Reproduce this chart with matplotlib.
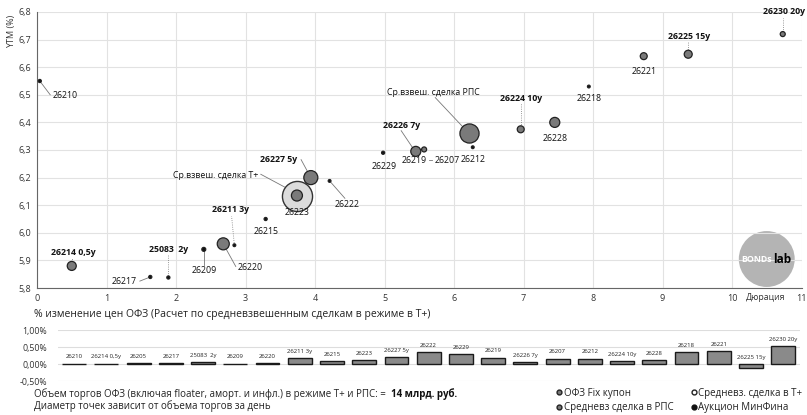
import matplotlib
matplotlib.use("Agg")
import matplotlib.pyplot as plt
from matplotlib.lines import Line2D

plt.rcParams['font.family'] = ['Open Sans', 'DejaVu Sans']
plt.rcParams['axes.linewidth'] = 0.8

# --- data: ОФЗ fix coupon (duration, YTM, marker area ~ daily volume) ---
bonds = ["26210", "26214", "26217", "25083", "26209", "26220", "26211", "26215",
         "26223", "26227", "26222", "26229", "26219", "26207", "26212", "26224",
         "26228", "26218", "26221", "26225", "26230"]
duration = [0.04, 0.50, 1.63, 1.89, 2.40, 2.68, 2.84, 3.29, 3.74, 3.94, 4.21,
            4.98, 5.45, 5.57, 6.27, 6.96, 7.45, 7.94, 8.73, 9.37, 10.73]
ytm = [6.55, 5.88, 5.84, 5.838, 5.94, 5.96, 5.955, 6.05, 6.135, 6.20, 6.188,
       6.29, 6.295, 6.302, 6.31, 6.375, 6.40, 6.53, 6.64, 6.647, 6.72]
volume = [5, 42, 5, 5, 8, 75, 4, 5, 63, 102, 4, 5, 52, 13, 4, 25, 52, 4, 25, 33, 13]

# weighted average trades
tplus_dur, tplus_ytm, tplus_vol = 3.74, 6.135, 470
rps_dur, rps_ytm, rps_vol = 6.21, 6.36, 190

# --- data: price change, % ---
bar_names = ["26210", "26214 0,5y", "26205", "26217", "25083  2y", "26209", "26220",
             "26211 3y", "26215", "26223", "26227 5y", "26222", "26229", "26219",
             "26226 7y", "26207", "26212", "26224 10y", "26228", "26218", "26221",
             "26225 15y", "26230 20y"]
price_chg = [0.01, 0.01, 0.02, 0.02, 0.05, 0.01, 0.03, 0.17, 0.09, 0.11, 0.20,
             0.34, 0.28, 0.19, 0.06, 0.16, 0.16, 0.09, 0.11, 0.34, 0.39, -0.11, 0.53]

fig = plt.figure(figsize=(8.07, 4.15), dpi=100)

# ---------------- main scatter ----------------
ax = fig.add_axes([37 / 807, 1 - 288 / 415, 764.5 / 807, 276 / 415])
ax.set_xlim(0, 11)
ax.set_ylim(5.8, 6.8)
ax.set_xticks(range(12))
ax.set_yticks([5.8 + 0.1 * i for i in range(11)])
ax.set_yticklabels([f"{5.8 + 0.1 * i:.1f}".replace(".", ",") for i in range(11)])
ax.grid(color="#e2e2e2", linewidth=0.8, zorder=0)
for s in ["top", "right"]:
    ax.spines[s].set_visible(False)
ax.spines["left"].set_color("#666666")
ax.spines["bottom"].set_color("#666666")
ax.tick_params(length=0, labelsize=6.5, colors="#333333", pad=4)
ax.set_ylabel("YTM (%)", fontsize=6.5, color="#333333", labelpad=2)
ax.yaxis.set_label_coords(-0.027, 0.93)

# logo
ax.scatter([10.5], [5.905], s=1620, color="#b4b4b4", edgecolor="none", zorder=1)
ax.text(10.575, 5.905, "BONDs", fontsize=6.3, color="white", fontweight="bold",
        ha="right", va="center", zorder=2)
ax.text(10.585, 5.905, "lab", fontsize=8.5, color="black", fontweight="bold",
        ha="left", va="center", zorder=2)

# T+ weighted trade (big light circle)
ax.scatter([tplus_dur], [tplus_ytm], s=tplus_vol, color="#dcdcdc", edgecolor="#333333",
           linewidth=1.0, zorder=3)
cols = ["#111111" if v < 10 else "#7a7a7a" for v in volume]
ax.scatter(duration, ytm, s=volume, c=cols, edgecolor="#222222", linewidth=0.9, zorder=4)
ax.scatter([rps_dur], [rps_ytm], s=rps_vol, color="#7a7a7a", edgecolor="#222222",
           linewidth=0.9, zorder=4)

pt = dict(zip(bonds, zip(duration, ytm)))

# labels: text, x, y, ha, bold, leader end, leader style, leader start (name or xy)
labels = [
    ("26210", 0.22, 6.496, "left", False, (0.19, 6.50), "-", "26210"),
    ("26214 0,5y", 0.53, 5.927, "center", True, (0.5, 5.91), ":", "26214"),
    ("26217", 1.44, 5.822, "right", False, (1.48, 5.825), "-", "26217"),
    ("25083  2y", 1.90, 5.938, "center", True, (1.89, 5.92), ":", "25083"),
    ("26209", 2.40, 5.865, "center", False, (2.40, 5.885), "-", "26209"),
    ("26220", 2.89, 5.873, "left", False, (2.86, 5.878), "-", "26220"),
    ("26211 3y", 2.78, 6.083, "center", True, (2.80, 6.06), ":", "26211"),
    ("26215", 3.29, 6.003, "center", False, None, None, None),
    ("26223", 3.74, 6.072, "center", False, None, None, None),
    ("Ср.взвеш. сделка Т+", 3.18, 6.209, "right", False, (3.22, 6.212), "-", (3.68, 6.15)),
    ("26227 5y", 3.74, 6.267, "right", True, (3.80, 6.265), "-", "26227"),
    ("26222", 4.46, 6.104, "center", False, (4.43, 6.125), "-", "26222"),
    ("26229", 4.99, 6.242, "center", False, None, None, None),
    ("26219", 5.42, 6.262, "center", False, None, None, None),
    ("26207", 5.90, 6.262, "center", False, (5.64, 6.262), "-", (5.69, 6.262)),
    ("26212", 6.27, 6.265, "center", False, None, None, None),
    ("26226 7y", 5.24, 6.387, "center", True, (5.24, 6.37), "-", (5.40, 6.31)),
    ("Ср.взвеш. сделка РПС", 5.70, 6.51, "center", False, (5.73, 6.49), "-", (6.16, 6.375)),
    ("26224 10y", 6.96, 6.488, "center", True, (6.96, 6.47), ":", "26224"),
    ("26228", 7.45, 6.343, "center", False, None, None, None),
    ("26218", 7.94, 6.488, "center", False, None, None, None),
    ("26221", 8.73, 6.586, "center", False, None, None, None),
    ("26225 15y", 9.38, 6.713, "center", True, (9.37, 6.695), ":", "26225"),
    ("26230 20y", 10.75, 6.80, "center", True, (10.73, 6.78), ":", "26230"),
]
for txt, tx, ty, ha, bold, lend, ls, lstart in labels:
    ax.text(tx, ty, txt, fontsize=6.3, ha=ha, va="center", color="#111111",
            fontweight="bold" if bold else "normal", zorder=6, clip_on=False)
    if lend is not None:
        p0 = pt[lstart] if isinstance(lstart, str) else lstart
        ax.plot([p0[0], lend[0]], [p0[1], lend[1]], color="#777777", linewidth=0.6,
                linestyle=ls, zorder=2)

fig.text(766 / 807, 1 - 298 / 415, "Дюрация", fontsize=6.3, color="#333333",
         ha="center", va="center")

# ---------------- bar chart ----------------
fig.text(34 / 807, 1 - 314 / 415,
         "% изменение цен ОФЗ (Расчет по средневзвешенным сделкам в режиме в Т+)",
         fontsize=7.5, color="#222222", ha="left", va="center")

bx = fig.add_axes([58 / 807, 1 - 381 / 415, 742 / 807, 51 / 415])
xs = list(range(len(bar_names)))
bx.bar(xs, price_chg, width=0.74, color="#8a8a8a", edgecolor="#1a1a1a", linewidth=1.0,
       zorder=3)
for x, v, n in zip(xs, price_chg, bar_names):
    bx.annotate(n, (x, max(v, 0)), xytext=(0, 3), textcoords="offset points",
                ha="center", va="bottom", fontsize=4.3, color="#222222")
bx.set_xlim(-0.5, len(bar_names) - 0.48)
bx.set_ylim(-0.5, 1.0)
bx.set_yticks([-0.5, 0, 0.5, 1.0])
bx.set_yticklabels(["-0,50%", "0,00%", "0,50%", "1,00%"])
bx.set_xticks([])
bx.grid(axis="y", color="#dddddd", linewidth=0.8, zorder=0)
for s in bx.spines.values():
    s.set_visible(False)
bx.tick_params(length=0, labelsize=6.3, colors="#333333", pad=8)

# ---------------- footer ----------------
t1 = fig.text(34 / 807, 1 - 394 / 415,
              "Объем торгов ОФЗ (включая floater, аморт. и инфл.) в режиме Т+ и РПС: = ",
              fontsize=7.0, color="#222222", ha="left", va="center")
fig.canvas.draw()
bb = t1.get_window_extent()
fig.text(bb.x1 / fig.bbox.width + 0.003, 1 - 394 / 415, "14 млрд. руб.", fontsize=7.0,
         color="#111111", fontweight="bold", ha="left", va="center")
fig.text(34 / 807, 1 - 406 / 415, "Диаметр точек зависит от объема торгов за день",
         fontsize=7.0, color="#222222", ha="left", va="center")

handles = [
    Line2D([], [], marker="o", ls="", markersize=3.5, markerfacecolor="#7a7a7a",
           markeredgecolor="#222222", label="ОФЗ Fix купон"),
    Line2D([], [], marker="o", ls="", markersize=3.5, markerfacecolor="#7a7a7a",
           markeredgecolor="#222222", label="Средневз сделка в РПС"),
    Line2D([], [], marker="o", ls="", markersize=3.5, markerfacecolor="white",
           markeredgecolor="#222222", label="Средневз. сделка в Т+"),
    Line2D([], [], marker="o", ls="", markersize=3.5, markerfacecolor="#111111",
           markeredgecolor="#111111", label="Аукцион МинФина"),
]
fig.legend(handles=handles, ncol=2, loc="center left",
           bbox_to_anchor=(549 / 807, 1 - 400.5 / 415), frameon=False, fontsize=7.0,
           handletextpad=0.0, handlelength=1.0, columnspacing=1.6, labelspacing=0.4,
           borderpad=0, labelcolor="#222222")

fig.savefig("out.png", dpi=100)
